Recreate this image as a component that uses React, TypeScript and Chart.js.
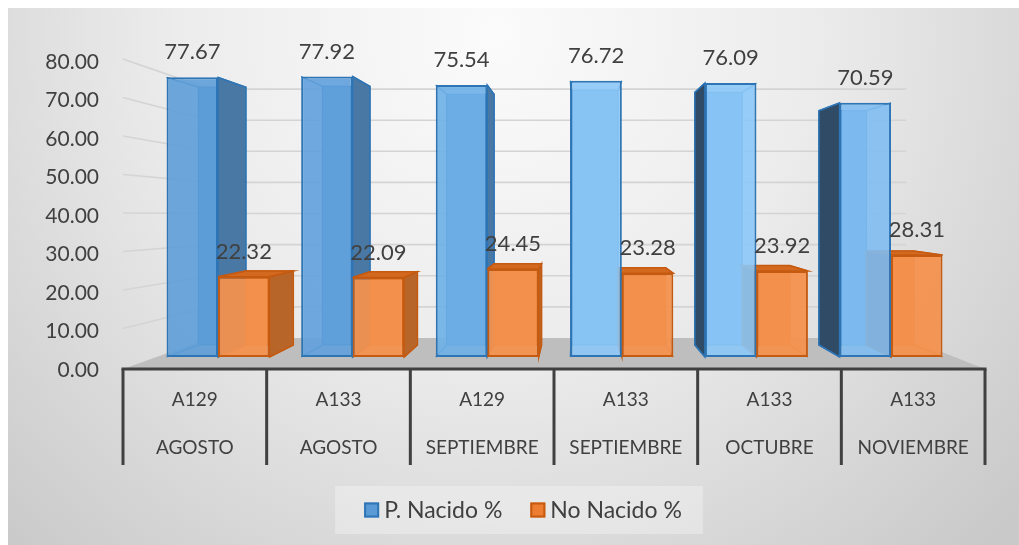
import { useEffect, useRef } from 'react';
import { Chart, registerables } from 'chart.js';

Chart.register(...registerables);

// ---- data ----
const codes = ['A129', 'A133', 'A129', 'A133', 'A133', 'A133'];
const months = ['AGOSTO', 'AGOSTO', 'SEPTIEMBRE', 'SEPTIEMBRE', 'OCTUBRE', 'NOVIEMBRE'];
const nacido = [77.67, 77.92, 75.54, 76.72, 76.09, 70.59];
const noNacido = [22.32, 22.09, 24.45, 23.28, 23.92, 28.31];
const seriesNames = ['P. Nacido %', 'No Nacido %'];
const yMin = 0;
const yMax = 80;
const yStep = 10;

// ---- style ----
const FONT = 'Lato, "Open Sans", sans-serif';
const TEXT = '#404040';
const blueFront = [
  'rgba(93,157,216,0.9)',
  'rgba(95,160,219,0.9)',
  'rgba(110,175,232,0.9)',
  'rgba(140,200,247,0.9)',
  'rgba(140,200,248,0.9)',
  'rgba(128,189,242,0.9)',
];
const orangeFront = 'rgba(243,145,78,0.95)';
const faces = [
  { back: '#5a95cc', left: '#2f4b66', right: '#4a78a5', top: '#4f86bd', edge: '#2e75b6' },
  { back: '#e07a35', left: '#8f4a16', right: '#b8652a', top: '#d2691f', edge: '#c55a11' },
];
// perspective of the 3D view (fractions of the plot area)
const VP_FX = 0.524;
const VP_FY = 0.458;
const DEPTH = 0.922; // bar back face scale
const WALL = 0.808; // back wall scale

function vp(chart: any) {
  const a = chart.chartArea;
  return { x: a.left + VP_FX * (a.right - a.left), y: a.top + VP_FY * (a.bottom - a.top) };
}
function proj(v: any, x: number, y: number, s: number) {
  return [v.x + s * (x - v.x), v.y + s * (y - v.y)];
}
function poly(ctx: CanvasRenderingContext2D, pts: number[][], fill: string, stroke: string, lw = 1.5) {
  ctx.beginPath();
  ctx.moveTo(pts[0][0], pts[0][1]);
  for (let i = 1; i < pts.length; i++) ctx.lineTo(pts[i][0], pts[i][1]);
  ctx.closePath();
  if (fill) {
    ctx.fillStyle = fill;
    ctx.fill();
  }
  if (stroke) {
    ctx.strokeStyle = stroke;
    ctx.lineWidth = lw;
    ctx.stroke();
  }
}

const scenePlugin = {
  id: 'scene3d',
  beforeDraw(chart: any) {
    const { ctx, width, height } = chart;
    ctx.save();
    const g = ctx.createRadialGradient(width * 0.48, height * 0.05, 0, width * 0.48, height * 0.05, width * 0.7);
    g.addColorStop(0, '#fbfbfb');
    g.addColorStop(0.45, '#ececec');
    g.addColorStop(1, '#c9c9c9');
    ctx.fillStyle = g;
    ctx.fillRect(0, 0, width, height);
    ctx.restore();
  },
  beforeDatasetsDraw(chart: any) {
    const { ctx, chartArea: a } = chart;
    const v = vp(chart);
    const y = chart.scales.y;
    ctx.save();
    const wl = proj(v, a.left, 0, WALL)[0];
    const wr = proj(v, a.right, 0, WALL)[0];
    const y0 = y.getPixelForValue(0);
    const yw0 = proj(v, 0, y0, WALL)[1];
    // floor
    poly(ctx, [[a.left, y0 - 1], [a.right, y0 - 1], [wr, yw0], [wl, yw0]], '#bebebe', '');
    // wall grid lines
    ctx.strokeStyle = '#d4d4d4';
    ctx.lineWidth = 1.6;
    y.ticks.forEach((t: any) => {
      if (t.value === 0) return;
      const py = y.getPixelForValue(t.value);
      const yw = proj(v, 0, py, WALL)[1];
      ctx.beginPath();
      ctx.moveTo(a.left, py - 3);
      ctx.lineTo(wl, yw);
      ctx.lineTo(wr, yw);
      ctx.stroke();
    });
    // 3D bar parts (back, sides, top)
    chart.data.datasets.forEach((_ds: any, d: number) => {
      const meta = chart.getDatasetMeta(d);
      const f = faces[d];
      meta.data.forEach((el: any) => {
        const p = el.getProps(['x', 'y', 'base', 'width'], true);
        const L = p.x - p.width / 2;
        const R = p.x + p.width / 2;
        const T = Math.min(p.y, p.base);
        const B = Math.max(p.y, p.base);
        const fTL = [L, T], fTR = [R, T], fBR = [R, B], fBL = [L, B];
        const bTL = proj(v, L, T, DEPTH), bTR = proj(v, R, T, DEPTH);
        const bBR = proj(v, R, B, DEPTH), bBL = proj(v, L, B, DEPTH);
        poly(ctx, [bTL, bTR, bBR, bBL], f.back, f.edge, 1.2);
        if (bTR[0] > R + 1) poly(ctx, [fTR, bTR, bBR, fBR], f.right, f.edge, 1.5);
        if (bTL[0] < L - 1) poly(ctx, [fTL, bTL, bBL, fBL], f.left, f.edge, 1.5);
        if (bTL[1] < T) poly(ctx, [fTL, fTR, bTR, bTL], f.top, f.edge, 1.5);
        ctx.strokeStyle = f.edge;
        ctx.lineWidth = 1.2;
        [[fTL, bTL], [fTR, bTR], [fBR, bBR], [fBL, bBL]].forEach(([s, e]) => {
          ctx.beginPath();
          ctx.moveTo(s[0], s[1]);
          ctx.lineTo(e[0], e[1]);
          ctx.stroke();
        });
      });
    });
    ctx.restore();
  },
  afterDatasetsDraw(chart: any) {
    const { ctx, chartArea: a } = chart;
    ctx.save();
    // value labels
    ctx.font = `22px ${FONT}`;
    ctx.fillStyle = TEXT;
    ctx.textAlign = 'center';
    ctx.textBaseline = 'middle';
    chart.data.datasets.forEach((ds: any, d: number) => {
      chart.getDatasetMeta(d).data.forEach((el: any, i: number) => {
        const p = el.getProps(['x', 'y'], true);
        ctx.fillText(ds.data[i].y.toFixed(2), p.x, p.y - 25);
      });
    });
    // category axis with dividers
    const x = chart.scales.x;
    const n = chart.data.labels.length;
    const step = (a.right - a.left) / n;
    const yAxis = chart.scales.y.getPixelForValue(0) - 1;
    ctx.strokeStyle = '#404040';
    ctx.lineWidth = 3;
    ctx.beginPath();
    ctx.moveTo(a.left - 1.5, yAxis);
    ctx.lineTo(a.right + 1.5, yAxis);
    ctx.stroke();
    for (let i = 0; i <= n; i++) {
      const px = x.left + i * step;
      ctx.beginPath();
      ctx.moveTo(px, yAxis);
      ctx.lineTo(px, yAxis + 96);
      ctx.stroke();
    }
    ctx.restore();
  },
  afterDraw(chart: any) {
    const { ctx } = chart;
    ctx.save();
    ctx.font = `23px ${FONT}`;
    const box = 15, gap = 5, itemGap = 28;
    const items = chart.data.datasets.map((ds: any, d: number) => ({
      text: ds.label,
      fill: d === 0 ? '#5b9bd5' : '#ed7d31',
      stroke: faces[d].edge,
      w: box + gap + ctx.measureText(ds.label).width,
    }));
    const total = items.reduce((s: number, it: any) => s + it.w, 0) + itemGap * (items.length - 1);
    const cx = 515, cy = 502;
    ctx.fillStyle = 'rgba(255,255,255,0.3)';
    ctx.fillRect(cx - total / 2 - 29, cy - 24, total + 50, 48);
    let px = cx - total / 2;
    ctx.textBaseline = 'middle';
    ctx.textAlign = 'left';
    items.forEach((it: any) => {
      ctx.fillStyle = it.fill;
      ctx.fillRect(px, cy - box / 2, box, box);
      ctx.strokeStyle = it.stroke;
      ctx.lineWidth = 2;
      ctx.strokeRect(px + 1, cy - box / 2 + 1, box - 2, box - 2);
      ctx.fillStyle = TEXT;
      ctx.fillText(it.text, px + box + gap, cy + 1);
      px += it.w + itemGap;
    });
    ctx.restore();
  },
};

export default function App() {
  const ref = useRef<HTMLCanvasElement | null>(null);
  useEffect(() => {
    if (!ref.current) return;
    const labels = codes.map((c, i) => [c, months[i]]);
    const chart = new Chart(ref.current, {
      type: 'bar',
      data: {
        labels,
        datasets: [
          {
            label: seriesNames[0],
            data: nacido.map((v, i) => ({ x: i, y: v })),
            backgroundColor: blueFront,
            borderColor: '#2e75b6',
            borderWidth: 2,
            borderSkipped: false,
            xAxisID: 'xb',
            yAxisID: 'yb',
          },
          {
            label: seriesNames[1],
            data: noNacido.map((v, i) => ({ x: i, y: v })),
            backgroundColor: orangeFront,
            borderColor: '#c55a11',
            borderWidth: 2,
            borderSkipped: false,
            xAxisID: 'xb',
            yAxisID: 'yb',
          },
        ] as any,
      },
      options: {
        animation: false,
        responsive: true,
        maintainAspectRatio: false,
        devicePixelRatio: 1,
        categoryPercentage: 0.765,
        barPercentage: 1,
        layout: { padding: { left: 35, right: 34, top: 54, bottom: 65 } },
        plugins: { legend: { display: false }, tooltip: { enabled: false } },
        scales: {
          x: {
            type: 'category',
            offset: true,
            grid: { display: false, drawTicks: false },
            border: { display: false },
            ticks: {
              color: TEXT,
              font: { family: FONT, size: 19, lineHeight: 48 / 19 },
              padding: 6,
              autoSkip: false,
              maxRotation: 0,
            },
            afterFit: (s: any) => { s.height = 110; },
          },
          xb: {
            type: 'linear',
            display: false,
            offset: false,
            min: -0.706,
            max: 5.698,
            afterBuildTicks: (s: any) => { s.ticks = codes.map((_c, i) => ({ value: i })); },
          },
          y: {
            type: 'linear',
            position: 'left',
            min: yMin,
            max: yMax,
            grid: { display: false, drawTicks: false },
            border: { display: false },
            ticks: {
              stepSize: yStep,
              color: TEXT,
              font: { family: FONT, size: 21 },
              padding: 24,
              callback: (v: any) => Number(v).toFixed(2),
            },
            afterFit: (s: any) => { s.width = 80; },
          },
          yb: { type: 'linear', display: false, min: -3.61, max: 81.94 },
        } as any,
      },
      plugins: [scenePlugin],
    });
    return () => chart.destroy();
  }, []);
  return (
    <div style={{ position: 'fixed', left: 8, top: 8, width: 1011, height: 537 }}>
      <canvas ref={ref} />
    </div>
  );
}
